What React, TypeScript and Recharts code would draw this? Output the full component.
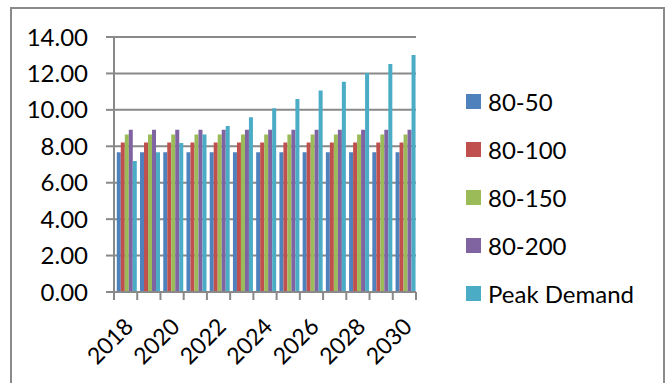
import React from "react";
import { BarChart, Bar, XAxis, YAxis, CartesianGrid } from "recharts";

const years = ["2018","2019","2020","2021","2022","2023","2024","2025","2026","2027","2028","2029","2030"];
const s80_50 = [7.67,7.67,7.67,7.67,7.67,7.67,7.67,7.67,7.67,7.67,7.67,7.67,7.67];
const s80_100 = [8.21,8.21,8.21,8.21,8.21,8.21,8.21,8.21,8.21,8.21,8.21,8.21,8.21];
const s80_150 = [8.65,8.65,8.65,8.65,8.65,8.65,8.65,8.65,8.65,8.65,8.65,8.65,8.65];
const s80_200 = [8.91,8.91,8.91,8.91,8.91,8.91,8.91,8.91,8.91,8.91,8.91,8.91,8.91];
const peakDemand = [7.19,7.67,8.18,8.65,9.12,9.6,10.09,10.59,11.06,11.55,12.03,12.52,13.01];
const yTicks = [0,2,4,6,8,10,12,14];

const seriesNames = ["80-50","80-100","80-150","80-200","Peak Demand"];
const seriesKeys = ["a","b","c","d","e"];
const colors = ["#4F81BD","#C0504D","#9BBB59","#8064A2","#4BACC6"];

const data = years.map((y, i) => ({
  year: y,
  a: s80_50[i],
  b: s80_100[i],
  c: s80_150[i],
  d: s80_200[i],
  e: peakDemand[i],
}));

const W = 665;
const H = 383;
const LEFT = 114;
const RIGHT = 249;
const TOP = 37;
const XAXIS_H = 91;
const PLOT_W = W - LEFT - RIGHT;
const BAND = PLOT_W / years.length;
const GRID = "#898989";
const FONT = "Lato, 'Open Sans', sans-serif";
const FS = 24;

const XTick = (props: any) => {
  const { x, y, payload, index } = props;
  const left = x - BAND / 2;
  const right = x + BAND / 2;
  const tx = x - 4;
  const ty = y + 23;
  return (
    <g>
      <line x1={left} y1={y} x2={left} y2={y + 8} stroke={GRID} strokeWidth={2} />
      {index === years.length - 1 && (
        <line x1={right} y1={y} x2={right} y2={y + 8} stroke={GRID} strokeWidth={2} />
      )}
      {index % 2 === 0 && (
        <text
          x={tx}
          y={ty}
          textAnchor="end"
          fontSize={23}
          fontFamily={FONT}
          fill="#000"
          transform={`rotate(-45 ${tx} ${ty})`}
          dominantBaseline="hanging"
        >
          {payload.value}
        </text>
      )}
    </g>
  );
};

const ChartLegend = () => (
  <div style={{ position: "absolute", left: 466, top: 77, fontFamily: FONT, fontSize: FS, color: "#000" }}>
    {seriesNames.map((n, i) => (
      <div key={n} style={{ display: "flex", alignItems: "center", height: 48 }}>
        <div style={{ width: 15, height: 15, background: colors[i], marginRight: 7 }} />
        <span style={{ whiteSpace: "nowrap" }}>{n}</span>
      </div>
    ))}
  </div>
);

export default function App() {
  return (
    <div style={{ position: "absolute", left: 0, top: 0, width: W, height: H, background: "#fff", overflow: "hidden" }}>
      <div
        style={{
          position: "absolute",
          left: 10,
          top: 7,
          width: 651,
          height: 400,
          borderTop: "2px solid #8a8a8a",
          borderLeft: "2px solid #8a8a8a",
          borderRight: "2px solid #8a8a8a",
        }}
      />
      <div style={{ position: "absolute", left: 0, top: 0 }}>
        <BarChart
          width={W}
          height={H}
          data={data}
          margin={{ top: TOP, right: RIGHT, bottom: 0, left: 0 }}
          barCategoryGap="12%"
          barGap={0}
        >
          <CartesianGrid vertical={false} stroke={GRID} strokeWidth={2} />
          <XAxis
            dataKey="year"
            interval={0}
            height={XAXIS_H}
            tickSize={0}
            tickMargin={0}
            tickLine={false}
            axisLine={{ stroke: GRID, strokeWidth: 2 }}
            tick={<XTick />}
          />
          <YAxis
            width={LEFT}
            domain={[0, 14]}
            ticks={yTicks}
            tickFormatter={(v: number) => v.toFixed(2)}
            tickSize={8}
            tickMargin={18}
            axisLine={{ stroke: GRID, strokeWidth: 2 }}
            tickLine={{ stroke: GRID, strokeWidth: 2 }}
            tick={{ fill: "#000", fontSize: FS, fontFamily: FONT }}
          />
          {seriesKeys.map((k, i) => (
            <Bar key={k} dataKey={k} name={seriesNames[i]} fill={colors[i]} isAnimationActive={false} />
          ))}
        </BarChart>
      </div>
      <ChartLegend />
    </div>
  );
}
